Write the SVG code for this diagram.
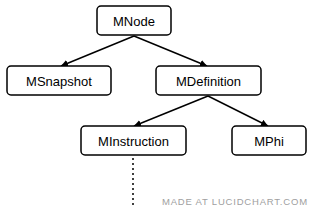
<svg xmlns="http://www.w3.org/2000/svg" width="313" height="208" viewBox="0 0 313 208">
<style>
.box{fill:#fff;stroke:#000;stroke-width:1.5}
.lbl{font-family:"Liberation Sans",Arial,sans-serif;font-size:13px;fill:#000;text-anchor:middle}
.edge{stroke:#000;stroke-width:1.5;fill:none}
</style>
<defs>
<marker id="arr" viewBox="0 0 10 10" refX="10" refY="5" markerWidth="7" markerHeight="7" orient="auto" markerUnits="userSpaceOnUse">
<path d="M0,0 L10,5 L0,10 z" fill="#000"/>
</marker>
</defs>
<rect width="313" height="208" fill="#fff"/>
<g id="connectors">
<line class="edge" x1="134" y1="36" x2="61" y2="66" marker-end="url(#arr)"/>
<line class="edge" x1="134" y1="36" x2="207" y2="66" marker-end="url(#arr)"/>
<line class="edge" x1="208" y1="96" x2="134" y2="126" marker-end="url(#arr)"/>
<line class="edge" x1="208" y1="96" x2="268" y2="126" marker-end="url(#arr)"/>
<line class="edge" x1="133" y1="158" x2="133" y2="208" stroke-width="2" stroke-dasharray="2,3"/>
</g>
<g id="MNode"><rect class="box" x="97" y="6" width="74" height="29" rx="4"/><text class="lbl" x="134" y="25.5">MNode</text></g>
<g id="MSnapshot"><rect class="box" x="7" y="66" width="104" height="29" rx="4"/><text class="lbl" x="59" y="85.5">MSnapshot</text></g>
<g id="MDefinition"><rect class="box" x="156" y="66" width="105" height="29" rx="4"/><text class="lbl" x="208.5" y="85.5">MDefinition</text></g>
<g id="MInstruction"><rect class="box" x="81" y="126" width="105" height="29" rx="4"/><text class="lbl" x="133.5" y="145.5">MInstruction</text></g>
<g id="MPhi"><rect class="box" x="232" y="126" width="74" height="29" rx="4"/><text class="lbl" x="269" y="145.5">MPhi</text></g>
<text x="162" y="205" font-family="'Liberation Sans',Arial,sans-serif" font-size="9.5" fill="#a0a0a0" letter-spacing="0.8">MADE AT LUCIDCHART.COM</text>
</svg>
